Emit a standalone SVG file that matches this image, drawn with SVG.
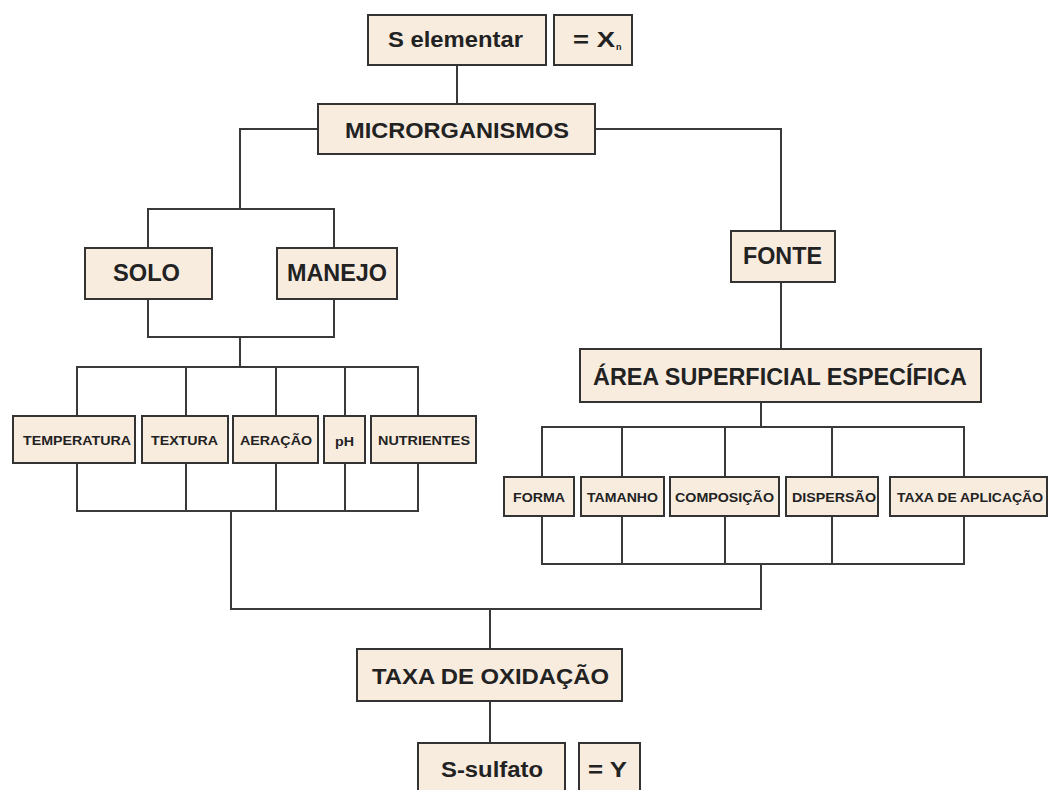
<svg xmlns="http://www.w3.org/2000/svg" width="1049" height="790" viewBox="0 0 1049 790">
<style>
.box{fill:#F8ECDF;stroke:#333;stroke-width:2}
.ln{fill:none;stroke:#3a3a3a;stroke-width:2}
.t{font-family:"Liberation Sans",Arial,sans-serif;font-weight:bold;fill:#222;text-anchor:start}
.L{font-size:22px}
.XL{font-size:23px}
.S{font-size:13px}
</style>
<rect width="1049" height="790" fill="#fff"/>
<g id="connectors">
<path class="ln" d="M457,65 V104"/>
<path class="ln" d="M318,129 H240 V209"/>
<path class="ln" d="M595,129 H781 V231"/>
<path class="ln" d="M148,248 V209 H334 V248"/>
<path class="ln" d="M148,299 V337 H334 V299"/>
<path class="ln" d="M240,337 V367"/>
<path class="ln" d="M77,416 V367 H418 V416 M186,367 V416 M276,367 V416 M345,367 V416"/>
<path class="ln" d="M77,463 V511 H418 V463 M186,463 V511 M276,463 V511 M345,463 V511"/>
<path class="ln" d="M231,511 V609 H761 V564"/>
<path class="ln" d="M781,282 V349"/>
<path class="ln" d="M761,402 V427"/>
<path class="ln" d="M542,477 V427 H964 V477 M622,427 V477 M725,427 V477 M832,427 V477"/>
<path class="ln" d="M542,516 V564 H964 V516 M622,516 V564 M725,516 V564 M832,516 V564"/>
<path class="ln" d="M490,609 V649"/>
<path class="ln" d="M490,701 V743"/>
</g>
<g id="s-elementar"><rect class="box" x="368" y="15" width="178" height="50"/><text class="t L" x="388" y="47" textLength="135" lengthAdjust="spacingAndGlyphs">S elementar</text></g>
<g id="xn"><rect class="box" x="554" y="15" width="78" height="50"/><text class="t L" x="573" y="47" textLength="42" lengthAdjust="spacingAndGlyphs">= X</text><text class="t" x="616" y="50" font-size="9">n</text></g>
<g id="microrganismos"><rect class="box" x="318" y="104" width="277" height="50"/><text class="t L" x="345" y="138" textLength="224" lengthAdjust="spacingAndGlyphs">MICRORGANISMOS</text></g>
<g id="solo"><rect class="box" x="85" y="248" width="127" height="51"/><text class="t XL" x="113" y="281" textLength="67" lengthAdjust="spacingAndGlyphs">SOLO</text></g>
<g id="manejo"><rect class="box" x="277" y="248" width="120" height="51"/><text class="t XL" x="287" y="281" textLength="100" lengthAdjust="spacingAndGlyphs">MANEJO</text></g>
<g id="fonte"><rect class="box" x="731" y="231" width="104" height="51"/><text class="t XL" x="743" y="264" textLength="79" lengthAdjust="spacingAndGlyphs">FONTE</text></g>
<g id="area"><rect class="box" x="580" y="349" width="401" height="53"/><text class="t XL" x="593" y="385" textLength="374" lengthAdjust="spacingAndGlyphs">ÁREA SUPERFICIAL ESPECÍFICA</text></g>
<g id="temperatura"><rect class="box" x="13" y="416" width="122" height="47"/><text class="t S" x="23" y="445" textLength="108" lengthAdjust="spacingAndGlyphs">TEMPERATURA</text></g>
<g id="textura"><rect class="box" x="142" y="416" width="86" height="47"/><text class="t S" x="151" y="445" textLength="67" lengthAdjust="spacingAndGlyphs">TEXTURA</text></g>
<g id="aeracao"><rect class="box" x="233" y="416" width="85" height="47"/><text class="t S" x="240" y="445" textLength="72" lengthAdjust="spacingAndGlyphs">AERAÇÃO</text></g>
<g id="ph"><rect class="box" x="324" y="416" width="41" height="47"/><text class="t S" x="335" y="446" textLength="19" lengthAdjust="spacingAndGlyphs">pH</text></g>
<g id="nutrientes"><rect class="box" x="371" y="416" width="105" height="47"/><text class="t S" x="378" y="445" textLength="92" lengthAdjust="spacingAndGlyphs">NUTRIENTES</text></g>
<g id="forma"><rect class="box" x="504" y="477" width="70" height="39"/><text class="t S" x="513" y="502" textLength="52" lengthAdjust="spacingAndGlyphs">FORMA</text></g>
<g id="tamanho"><rect class="box" x="581" y="477" width="83" height="39"/><text class="t S" x="587" y="502" textLength="71" lengthAdjust="spacingAndGlyphs">TAMANHO</text></g>
<g id="composicao"><rect class="box" x="670" y="477" width="109" height="39"/><text class="t S" x="675" y="502" textLength="99" lengthAdjust="spacingAndGlyphs">COMPOSIÇÃO</text></g>
<g id="dispersao"><rect class="box" x="786" y="477" width="92" height="39"/><text class="t S" x="792" y="502" textLength="84" lengthAdjust="spacingAndGlyphs">DISPERSÃO</text></g>
<g id="taxa-aplicacao"><rect class="box" x="890" y="477" width="157" height="39"/><text class="t S" x="897" y="502" textLength="146" lengthAdjust="spacingAndGlyphs">TAXA DE APLICAÇÃO</text></g>
<g id="taxa-oxidacao"><rect class="box" x="357" y="649" width="265" height="52"/><text class="t L" x="372" y="684" textLength="237" lengthAdjust="spacingAndGlyphs">TAXA DE OXIDAÇÃO</text></g>
<g id="s-sulfato"><rect class="box" x="418" y="743" width="147" height="60"/><text class="t L" x="441" y="777" textLength="102" lengthAdjust="spacingAndGlyphs">S-sulfato</text></g>
<g id="y"><rect class="box" x="579" y="743" width="61" height="60"/><text class="t L" x="588" y="777" textLength="39" lengthAdjust="spacingAndGlyphs">= Y</text></g>
</svg>
